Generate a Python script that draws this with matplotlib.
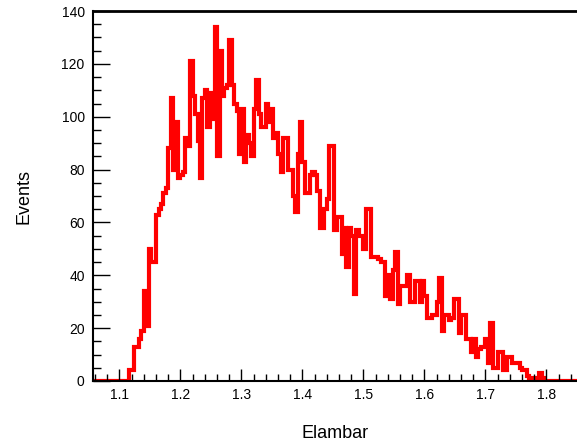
import numpy as np
import matplotlib
matplotlib.use("Agg")
import matplotlib.pyplot as plt
from matplotlib.ticker import MultipleLocator

plt.rcParams['font.family'] = ['Liberation Sans', 'DejaVu Sans']

# histogram: 0.004 wide bins starting at 1.056
bin_width = 0.004
first_edge = 1.056
n_bins = 199
filled_from = 1.116  # first non-empty bin edge

counts = [
    4, 4, 13, 13, 16, 19, 34, 21, 50, 45,
    45, 63, 65, 67, 71, 73, 88, 107, 80, 98,
    77, 78, 79, 92, 89, 121, 108, 101, 91, 77,
    107, 110, 96, 109, 99, 134, 85, 125, 108, 111,
    112, 129, 112, 105, 102, 86, 103, 83, 93, 90,
    85, 103, 114, 101, 96, 96, 105, 98, 103, 92,
    94, 86, 79, 92, 92, 80, 80, 70, 64, 86,
    98, 83, 71, 71, 78, 79, 78, 72, 58, 58,
    65, 69, 89, 89, 57, 62, 62, 48, 58, 43,
    58, 55, 33, 57, 55, 55, 50, 65, 65, 47,
    47, 47, 46, 45, 45, 32, 40, 31, 42, 49,
    29, 36, 36, 36, 40, 30, 30, 38, 38, 30,
    38, 32, 24, 24, 25, 25, 30, 39, 19, 25,
    25, 23, 24, 31, 31, 18, 25, 25, 16, 16,
    11, 16, 9, 12, 13, 13, 16, 7, 22, 5,
    5, 11, 11, 4, 4, 9, 9, 7, 7, 7,
    5, 4, 4, 2, 0, 1, 1, 1, 3, 1,
]

edges = first_edge + bin_width * np.arange(n_bins + 1)
values = np.zeros(n_bins)
start = int(round((filled_from - first_edge) / bin_width))
values[start:start + len(counts)] = counts

fig = plt.figure(figsize=(5.77, 4.46), dpi=100)
ax = fig.add_axes([93/577, 65/446, 484/577, 370/446])

ax.stairs(values, edges, color='#ff0000', linewidth=3, baseline=None)

ax.set_xlim(1.0566, 1.85)
ax.set_ylim(0, 140)

ax.xaxis.set_major_locator(MultipleLocator(0.1))
ax.xaxis.set_minor_locator(MultipleLocator(0.02))
ax.yaxis.set_major_locator(MultipleLocator(20))
ax.yaxis.set_minor_locator(MultipleLocator(5))
ax.xaxis.set_major_formatter(plt.FuncFormatter(lambda v, p: '%g' % round(v, 2)))

ax.tick_params(axis='x', which='major', direction='in', length=9, width=1, labelsize=10, pad=5)
ax.tick_params(axis='x', which='minor', direction='in', length=5, width=1)
ax.tick_params(axis='y', which='major', direction='in', length=12, width=1, labelsize=10, pad=6)
ax.tick_params(axis='y', which='minor', direction='in', length=6, width=1)

ax.spines['right'].set_visible(False)
ax.spines['top'].set_linewidth(2)
ax.spines['left'].set_linewidth(1.5)
ax.spines['bottom'].set_linewidth(1.5)

ax.set_xlabel('Elambar', fontsize=13)
ax.set_ylabel('Events', fontsize=13)
ax.xaxis.set_label_coords(0.5, -0.12)
ax.yaxis.set_label_coords(-0.125, 0.5)

fig.savefig('out.png', dpi=100)
